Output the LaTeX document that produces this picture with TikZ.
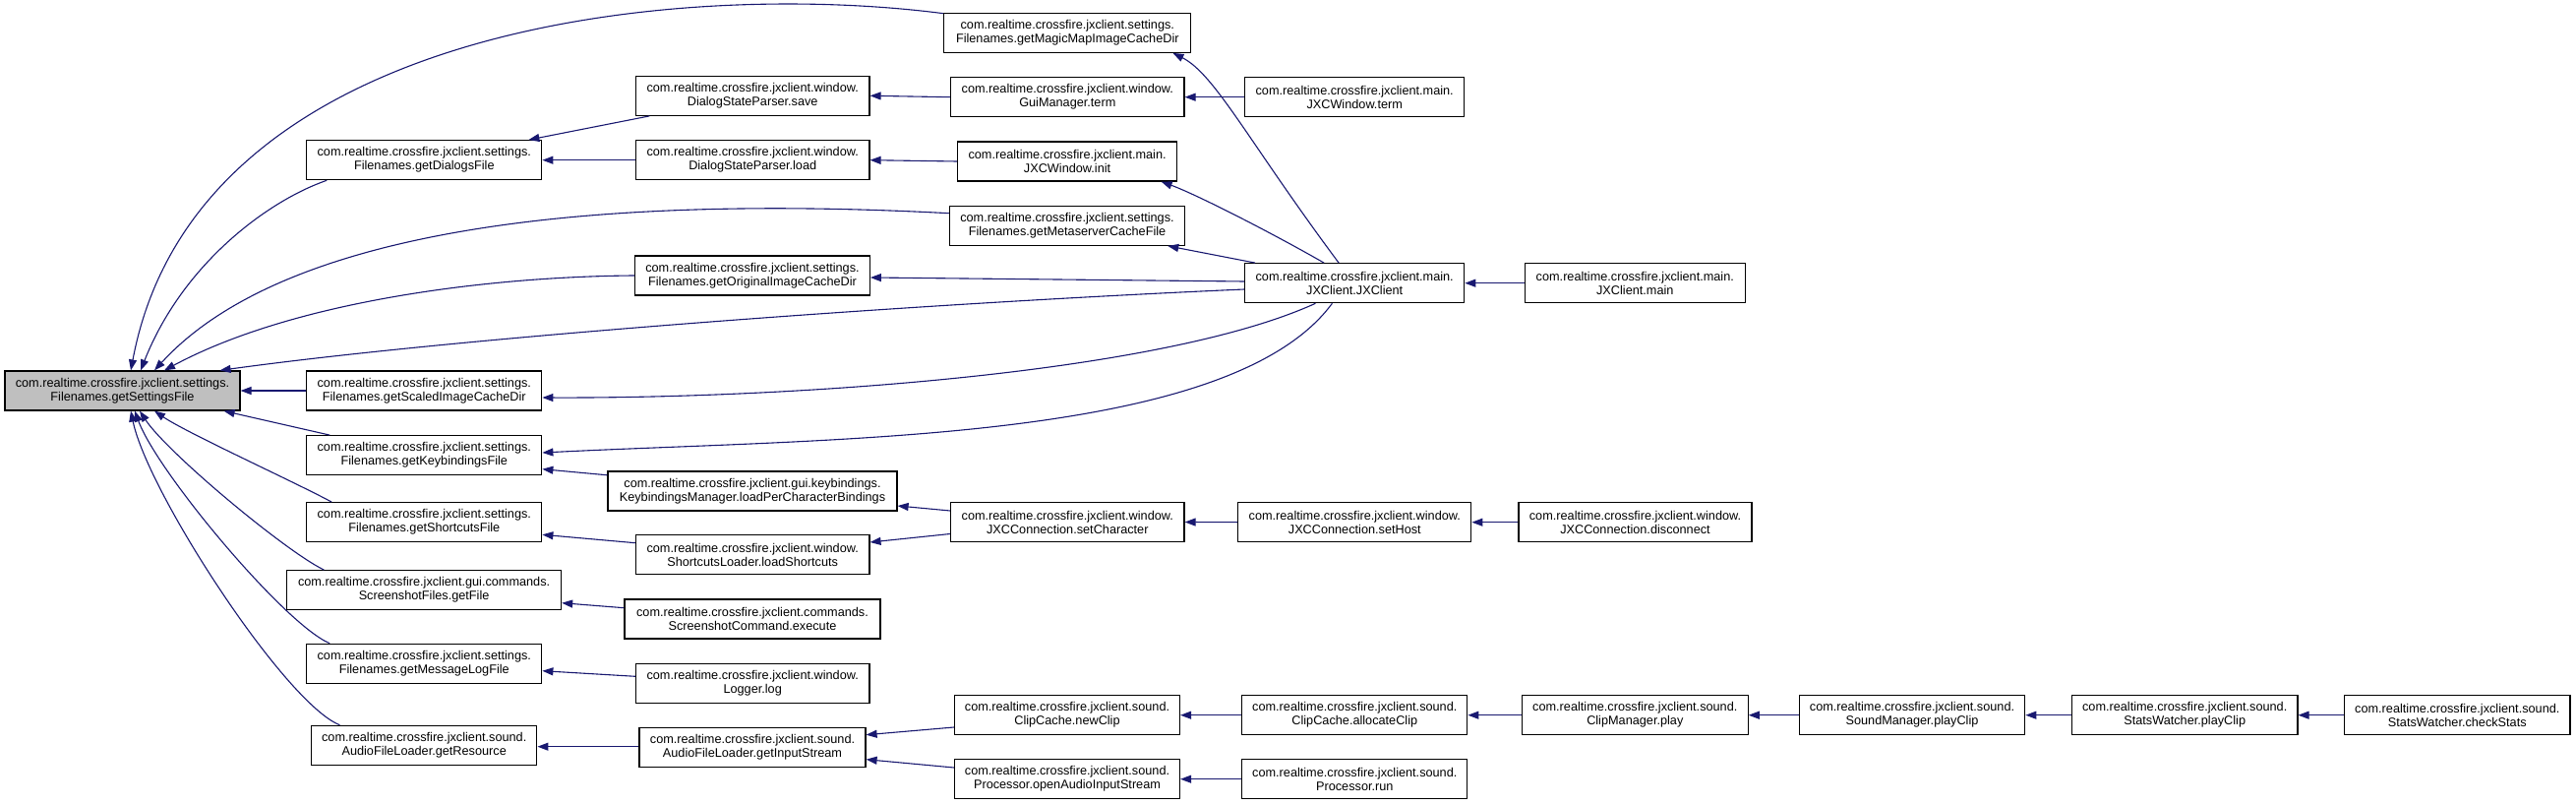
\documentclass[tikz,border=0pt]{standalone}
\usepackage{fontspec}
\setmainfont{Liberation Sans}
\usetikzlibrary{arrows.meta,calc}
\definecolor{edgeblue}{HTML}{191970}
\definecolor{rootgray}{HTML}{BFBFBF}
\tikzset{
 fn/.style={draw=black, fill=white, line width=1.2pt, minimum height=40pt, inner sep=0pt, align=center, font=\fontsize{12.7pt}{14pt}\selectfont},
 call/.style={draw=edgeblue, line width=1.1pt, -{Triangle[length=11pt,width=8pt]}},
}
\begin{document}
\begin{tikzpicture}[x=1pt,y=-1pt]
\useasboundingbox (0,0) rectangle (2619,818);
% column 1
\node[fn, fill=rootgray, minimum width=239pt] (root) at (124.5,397) {com.realtime.crossfire.jxclient.settings.\\Filenames.getSettingsFile};
% column 2
\node[fn, minimum width=239pt] (dialogs) at (431.3,162.7) {com.realtime.crossfire.jxclient.settings.\\Filenames.getDialogsFile};
\node[fn, minimum width=239pt] (scaled) at (431.3,397) {com.realtime.crossfire.jxclient.settings.\\Filenames.getScaledImageCacheDir};
\node[fn, minimum width=239pt] (keyb) at (431.3,462.7) {com.realtime.crossfire.jxclient.settings.\\Filenames.getKeybindingsFile};
\node[fn, minimum width=239pt] (shortcuts) at (431.3,530.7) {com.realtime.crossfire.jxclient.settings.\\Filenames.getShortcutsFile};
\node[fn, minimum width=279pt] (shotfiles) at (431.1,599.7) {com.realtime.crossfire.jxclient.gui.commands.\\ScreenshotFiles.getFile};
\node[fn, minimum width=239pt] (msglog) at (431.3,674.3) {com.realtime.crossfire.jxclient.settings.\\Filenames.getMessageLogFile};
\node[fn, minimum width=229.3pt] (getres) at (431.2,757.3) {com.realtime.crossfire.jxclient.sound.\\AudioFileLoader.getResource};
% column 3
\node[fn, minimum width=237.5pt] (save) at (765.2,97.3) {com.realtime.crossfire.jxclient.window.\\DialogStateParser.save};
\node[fn, minimum width=237.5pt] (load) at (765.2,162.7) {com.realtime.crossfire.jxclient.window.\\DialogStateParser.load};
\node[fn, minimum width=238.6pt] (orig) at (765,280) {com.realtime.crossfire.jxclient.settings.\\Filenames.getOriginalImageCacheDir};
\node[fn, minimum width=294pt] (kbmgr) at (765,499) {com.realtime.crossfire.jxclient.gui.keybindings.\\KeybindingsManager.loadPerCharacterBindings};
\node[fn, minimum width=237.5pt] (sloader) at (765.2,563.7) {com.realtime.crossfire.jxclient.window.\\ShortcutsLoader.loadShortcuts};
\node[fn, minimum width=260pt] (scmd) at (765,629) {com.realtime.crossfire.jxclient.commands.\\ScreenshotCommand.execute};
\node[fn, minimum width=237.5pt] (logger) at (765.2,694.5) {com.realtime.crossfire.jxclient.window.\\Logger.log};
\node[fn, minimum width=230pt] (instream) at (765,759.5) {com.realtime.crossfire.jxclient.sound.\\AudioFileLoader.getInputStream};
% column 4
\node[fn, minimum width=251pt] (magic) at (1085.3,33.3) {com.realtime.crossfire.jxclient.settings.\\Filenames.getMagicMapImageCacheDir};
\node[fn, minimum width=237.4pt] (gui) at (1085.3,98.7) {com.realtime.crossfire.jxclient.window.\\GuiManager.term};
\node[fn, minimum width=223.2pt] (init) at (1085.1,164) {com.realtime.crossfire.jxclient.main.\\JXCWindow.init};
\node[fn, minimum width=239.3pt] (meta) at (1085,229.3) {com.realtime.crossfire.jxclient.settings.\\Filenames.getMetaserverCacheFile};
\node[fn, minimum width=237.4pt] (setchar) at (1085.3,530.5) {com.realtime.crossfire.jxclient.window.\\JXCConnection.setCharacter};
\node[fn, minimum width=229pt] (newclip) at (1085,726.7) {com.realtime.crossfire.jxclient.sound.\\ClipCache.newClip};
\node[fn, minimum width=229pt] (openaudio) at (1085,791.7) {com.realtime.crossfire.jxclient.sound.\\Processor.openAudioInputStream};
% column 5
\node[fn, minimum width=223pt] (wterm) at (1377.2,98.7) {com.realtime.crossfire.jxclient.main.\\JXCWindow.term};
\node[fn, minimum width=223pt] (jxclient) at (1377.2,287.7) {com.realtime.crossfire.jxclient.main.\\JXClient.JXClient};
\node[fn, minimum width=237pt] (sethost) at (1377.3,530.7) {com.realtime.crossfire.jxclient.window.\\JXCConnection.setHost};
\node[fn, minimum width=229pt] (alloc) at (1377.3,726.7) {com.realtime.crossfire.jxclient.sound.\\ClipCache.allocateClip};
\node[fn, minimum width=229pt] (prun) at (1377.3,791.7) {com.realtime.crossfire.jxclient.sound.\\Processor.run};
% column 6
\node[fn, minimum width=224pt] (jmain) at (1662.3,287.7) {com.realtime.crossfire.jxclient.main.\\JXClient.main};
\node[fn, minimum width=237pt] (disconnect) at (1662.5,530.7) {com.realtime.crossfire.jxclient.window.\\JXCConnection.disconnect};
\node[fn, minimum width=229.7pt] (play) at (1662.3,726.7) {com.realtime.crossfire.jxclient.sound.\\ClipManager.play};
% columns 7-9
\node[fn, minimum width=229.5pt] (smplay) at (1944,726.7) {com.realtime.crossfire.jxclient.sound.\\SoundManager.playClip};
\node[fn, minimum width=229.5pt] (swplay) at (2221.2,726.7) {com.realtime.crossfire.jxclient.sound.\\StatsWatcher.playClip};
\node[fn, minimum width=229.4pt] (check) at (2498.3,726.7) {com.realtime.crossfire.jxclient.sound.\\StatsWatcher.checkStats};

% edges into root
\draw[call] (scaled.west) -- (root.east);
\draw[call] ($(magic.north west)+(0,1)$) .. controls (700,-20) and (200,20) .. ($(root.north)+(8.5,0)$);
\draw[call] ($(dialogs.south west)+(21,0)$) .. controls (270,205) and (185,270) .. ($(root.north)+(18.5,0)$);
\draw[call] ($(meta.west)+(0,-12.6)$) .. controls (650,200) and (300,220) .. ($(root.north)+(32.5,0)$);
\draw[call] (orig.west) .. controls (500,281) and (300,305) .. ($(root.north)+(42.5,0)$);
\draw[call] ($(jxclient.west)+(0,6.3)$) .. controls (900,310) and (450,345) .. ($(root.north east)+(-21,0)$);
\draw[call] ($(keyb.north west)+(24,0)$) -- ($(root.south east)+(-17,0)$);
\draw[call] ($(shortcuts.north west)+(26,0)$) .. controls (300,490) and (190,440) .. ($(root.south)+(32.5,0)$);
\draw[call] ($(shotfiles.north west)+(38.4,0)$) .. controls (290,560) and (170,460) .. ($(root.south)+(17.5,0)$);
\draw[call] ($(msglog.north west)+(24,0)$) .. controls (290,635) and (160,480) .. ($(root.south)+(12.5,0)$);
\draw[call] ($(getres.north west)+(29.5,0)$) .. controls (290,715) and (150,500) .. ($(root.south)+(8.5,0)$);

% edges from JXClient
\draw[call] ($(jxclient.south west)+(72.3,0)$) .. controls (1180,380) and (800,405) .. ($(scaled.east)+(0,7)$);
\draw[call] ($(jxclient.south west)+(89.3,0)$) .. controls (1250,450) and (850,445) .. ($(keyb.east)+(0,-2.7)$);
\draw[call] ($(jxclient.west)+(0,-1.7)$) -- ($(orig.east)+(0,2)$);
\draw[call] ($(jxclient.north west)+(96,0)$) .. controls (1270,145) and (1235,75) .. ($(magic.south east)+(-19,0)$);
\draw[call] ($(jxclient.north west)+(81,0)$) .. controls (1290,235) and (1215,197) .. ($(init.south east)+(-16.7,0)$);
\draw[call] ($(jxclient.north west)+(11,0)$) -- ($(meta.south east)+(-18,0)$);
\draw[call] (jmain.west) -- (jxclient.east);

% dialogs
\draw[call] ($(save.south west)+(14.5,0)$) -- ($(dialogs.north east)+(-14,0)$);
\draw[call] (load.west) -- (dialogs.east);
\draw[call] (gui.west) -- (save.east);
\draw[call] (init.west) -- (load.east);
\draw[call] (wterm.west) -- (gui.east);

% keybindings / shortcuts / misc
\draw[call] ($(kbmgr.north west)+(0,4.4)$) -- ($(keyb.east)+(0,14)$);
\draw[call] ($(setchar.west)+(0,-11.5)$) -- ($(kbmgr.east)+(0,15)$);
\draw[call] ($(setchar.west)+(0,12)$) -- ($(sloader.east)+(0,-12.7)$);
\draw[call] ($(sloader.west)+(0,-12)$) -- ($(shortcuts.east)+(0,12.6)$);
\draw[call] ($(scmd.west)+(0,-11.3)$) -- ($(shotfiles.east)+(0,13)$);
\draw[call] ($(logger.west)+(0,-7.2)$) -- ($(msglog.east)+(0,7.4)$);
\draw[call] (sethost.west) -- (setchar.east);
\draw[call] (disconnect.west) -- (sethost.east);

% sound
\draw[call] ($(instream.west)+(0,-0.8)$) -- ($(getres.east)+(0,1.4)$);
\draw[call] ($(newclip.west)+(0,12.3)$) -- ($(instream.east)+(0,-12.8)$);
\draw[call] ($(openaudio.west)+(0,-11.7)$) -- ($(instream.east)+(0,12.2)$);
\draw[call] (alloc.west) -- (newclip.east);
\draw[call] (play.west) -- (alloc.east);
\draw[call] (smplay.west) -- (play.east);
\draw[call] (swplay.west) -- (smplay.east);
\draw[call] (check.west) -- (swplay.east);
\draw[call] (prun.west) -- (openaudio.east);
\end{tikzpicture}
\end{document}
